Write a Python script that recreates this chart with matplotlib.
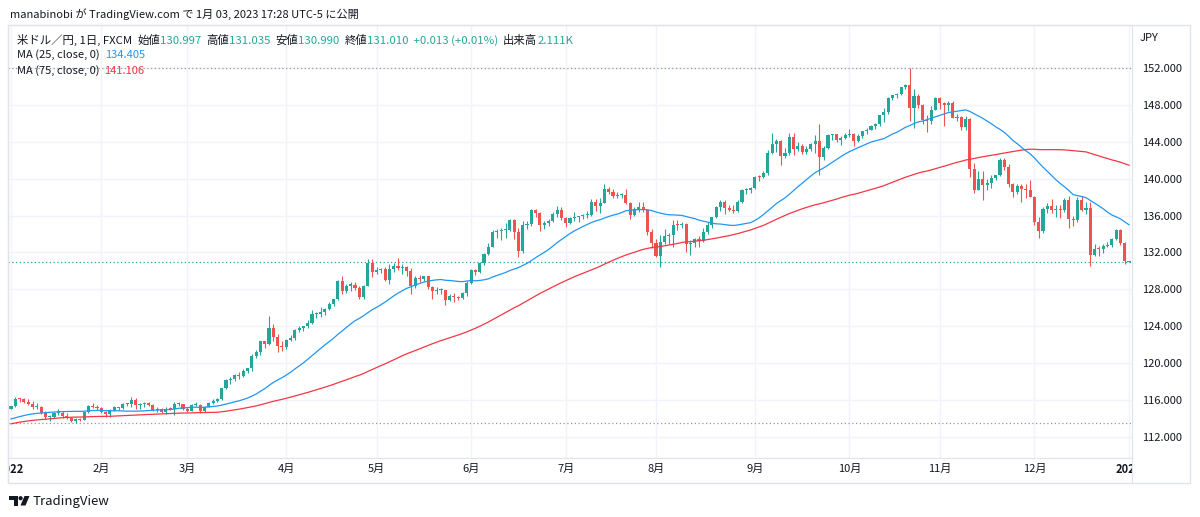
import numpy as np
import pandas as pd
import matplotlib
matplotlib.use('Agg')
import matplotlib.pyplot as plt
from matplotlib.patches import Polygon, Circle, Rectangle
from matplotlib.transforms import Affine2D

# closes before the chart window (needed so the MAs start at the left edge)
closes_2021 = [
    109.72, 109.94, 109.40, 109.22, 109.78, 110.27, 110.74, 111.00, 111.50, 111.98, 111.29,
    111.05, 110.93, 111.44, 111.41, 111.62, 112.22, 113.30, 113.60, 113.25, 113.69, 114.22,
    114.35, 114.36, 114.31, 113.99, 113.47, 113.70, 114.16, 113.83, 113.58, 113.95,
    113.98, 113.96, 114.07, 113.78, 113.42, 112.90, 112.87, 113.92, 114.05, 113.87, 114.12,
    114.81, 114.09, 114.27, 114.00, 114.83, 115.09, 115.42, 115.36, 113.40, 113.56, 113.15,
    112.80, 113.16, 112.80, 113.45, 113.56, 113.72, 113.44, 113.38, 113.56, 113.72, 114.04,
    113.70, 113.72, 113.62, 114.09, 114.12, 114.40, 114.40, 114.82, 114.84, 115.02, 115.05, 115.08,
]

# daily (open, high, low, close) per month, 2022
jan = [(115.08, 115.40, 115.00, 115.31), (115.31, 116.35, 115.25, 116.12), (116.12, 116.20, 115.75, 116.10),
       (116.10, 116.20, 115.65, 115.84), (115.84, 116.10, 115.45, 115.56), (115.56, 115.85, 115.05, 115.20),
       (115.20, 115.68, 115.00, 115.28), (115.28, 115.40, 114.50, 114.62), (114.62, 114.80, 113.90, 114.18),
       (114.18, 114.35, 113.70, 114.20), (114.20, 114.70, 114.10, 114.59), (114.59, 115.05, 114.40, 114.62),
       (114.62, 114.85, 114.10, 114.32), (114.32, 114.55, 114.00, 114.09), (114.09, 114.20, 113.60, 113.69),
       (113.69, 114.05, 113.47, 113.98), (113.98, 114.10, 113.70, 113.87), (113.87, 114.75, 113.80, 114.66),
       (114.66, 115.48, 114.60, 115.34), (115.34, 115.68, 115.10, 115.26), (115.26, 115.45, 114.95, 115.10)]
feb = [(115.10, 115.25, 114.55, 114.69), (114.69, 114.80, 114.15, 114.44), (114.44, 115.05, 114.20, 114.97),
       (114.97, 115.40, 114.80, 115.21), (115.21, 115.30, 114.90, 115.09), (115.09, 115.65, 115.00, 115.55),
       (115.55, 115.70, 115.35, 115.53), (115.53, 116.34, 115.30, 116.03), (116.03, 116.20, 115.00, 115.42),
       (115.42, 115.70, 115.00, 115.58), (115.58, 115.80, 115.30, 115.67), (115.67, 115.80, 115.35, 115.49),
       (115.49, 115.55, 114.80, 114.90), (114.90, 115.20, 114.75, 115.01), (115.01, 115.10, 114.60, 114.75),
       (114.75, 115.20, 114.50, 115.08), (115.08, 115.25, 114.90, 115.01), (115.01, 115.75, 114.40, 115.53),
       (115.53, 115.75, 115.40, 115.55), (115.55, 115.55, 114.90, 114.98)]
mar = [(114.98, 115.20, 114.70, 114.86), (114.86, 115.55, 114.80, 115.48), (115.48, 115.80, 115.35, 115.51),
       (115.51, 115.60, 114.65, 114.83), (114.83, 115.35, 114.70, 115.30), (115.30, 115.80, 115.20, 115.68),
       (115.68, 116.15, 115.55, 115.90), (115.90, 116.20, 115.75, 116.15), (116.15, 117.35, 116.05, 117.31),
       (117.31, 118.30, 117.20, 118.17), (118.17, 118.45, 117.70, 118.30), (118.30, 118.85, 118.10, 118.73),
       (118.73, 119.00, 118.30, 118.60), (118.60, 119.40, 118.50, 119.16), (119.16, 119.50, 118.90, 119.44),
       (119.44, 120.95, 119.20, 120.82), (120.82, 121.40, 120.60, 121.19), (121.19, 122.45, 120.85, 122.36),
       (122.36, 122.45, 121.60, 122.04), (122.04, 125.09, 122.00, 123.83), (123.83, 124.30, 122.45, 122.86),
       (122.86, 123.20, 121.25, 121.85), (121.85, 122.45, 121.28, 121.70)]
apr = [(121.70, 122.60, 121.55, 122.51), (122.51, 123.05, 122.40, 122.77), (122.77, 123.70, 122.55, 123.60),
       (123.60, 124.00, 123.40, 123.79), (123.79, 124.05, 123.45, 123.98), (123.98, 124.65, 123.80, 124.33),
       (124.33, 125.75, 124.30, 125.35), (125.35, 125.60, 124.90, 125.37), (125.37, 126.10, 125.05, 125.59),
       (125.59, 126.00, 125.20, 125.87), (125.87, 126.65, 125.80, 126.40), (126.40, 127.00, 126.20, 126.95),
       (126.95, 129.00, 126.85, 128.88), (128.88, 129.40, 127.50, 127.87), (127.87, 128.60, 127.60, 128.42),
       (128.42, 128.85, 127.85, 128.50), (128.50, 128.85, 127.95, 128.11), (128.11, 128.40, 126.95, 127.21),
       (127.21, 128.50, 127.00, 128.38), (128.38, 131.25, 128.35, 130.83), (130.83, 131.25, 129.35, 129.84)]
may = [(129.84, 130.40, 129.70, 130.13), (130.13, 130.35, 129.80, 130.16), (130.16, 130.45, 128.90, 129.07),
       (129.07, 130.80, 128.60, 130.22), (130.22, 130.85, 129.85, 130.58), (130.58, 131.35, 130.05, 130.27),
       (130.27, 130.80, 129.70, 130.43), (130.43, 130.50, 129.40, 129.97), (129.97, 130.30, 127.50, 128.34),
       (128.34, 129.40, 128.20, 129.22), (129.22, 129.60, 128.85, 129.12), (129.12, 129.50, 128.95, 129.40),
       (129.40, 129.50, 128.00, 128.25), (128.25, 128.35, 127.00, 127.79), (127.79, 128.25, 127.50, 127.88),
       (127.88, 128.10, 127.50, 127.89), (127.89, 127.95, 126.36, 126.84), (126.84, 127.50, 126.70, 127.31),
       (127.31, 127.60, 126.60, 127.12), (127.12, 127.30, 126.85, 127.11), (127.11, 127.75, 127.00, 127.62),
       (127.62, 128.90, 127.30, 128.70)]
jun = [(128.70, 130.20, 128.55, 130.05), (130.05, 130.20, 129.55, 129.90), (129.90, 130.95, 129.80, 130.86),
       (130.86, 131.95, 130.65, 131.88), (131.88, 132.99, 131.70, 132.62), (132.62, 134.48, 132.55, 134.26),
       (134.26, 134.55, 133.60, 134.37), (134.37, 134.60, 133.40, 134.41), (134.41, 135.20, 133.60, 134.43),
       (134.43, 135.60, 134.30, 135.48), (135.48, 135.60, 133.50, 134.19), (134.19, 134.65, 131.50, 132.18),
       (132.18, 135.45, 131.95, 134.98), (134.98, 135.40, 134.50, 135.08), (135.08, 136.70, 134.90, 136.65),
       (136.65, 136.71, 135.80, 136.25), (136.25, 136.40, 134.30, 134.94), (134.94, 135.40, 134.55, 135.22),
       (135.22, 135.60, 134.90, 135.45), (135.45, 136.35, 135.25, 136.14), (136.14, 137.00, 135.90, 136.57),
       (136.57, 136.95, 135.55, 135.73)]
jul = [(135.73, 135.80, 134.75, 135.21), (135.21, 135.90, 135.10, 135.70), (135.70, 136.35, 135.40, 135.86),
       (135.86, 136.00, 135.30, 135.93), (135.93, 136.20, 135.60, 136.03), (136.03, 136.55, 135.70, 136.09),
       (136.09, 137.75, 136.00, 137.44), (137.44, 137.80, 136.55, 137.02), (137.02, 137.90, 136.30, 137.41),
       (137.41, 139.39, 137.35, 138.93), (138.93, 139.05, 138.35, 138.56), (138.56, 138.85, 137.95, 138.15),
       (138.15, 138.55, 137.90, 138.21), (138.21, 138.40, 137.90, 138.21), (138.21, 138.85, 137.30, 137.36),
       (137.36, 137.50, 135.60, 136.11), (136.11, 136.90, 135.95, 136.69), (136.69, 137.45, 136.40, 136.94),
       (136.94, 137.45, 136.35, 136.57), (136.57, 136.60, 133.90, 134.25), (134.25, 134.55, 132.50, 133.00)]
aug = [(133.00, 133.50, 131.55, 131.60), (131.60, 133.90, 130.40, 133.17), (133.17, 134.55, 132.95, 133.81),
       (133.81, 134.10, 132.90, 133.91), (133.91, 135.50, 132.55, 135.00), (135.00, 135.55, 134.40, 134.97),
       (134.97, 135.25, 134.60, 135.06), (135.06, 135.15, 132.05, 132.93), (132.93, 133.40, 131.75, 133.03),
       (133.03, 133.60, 132.55, 133.47), (133.47, 133.80, 132.55, 133.26), (133.26, 134.70, 133.10, 134.20),
       (134.20, 135.30, 134.00, 135.00), (135.00, 135.90, 134.65, 135.87), (135.87, 137.00, 135.70, 136.92),
       (136.92, 137.70, 136.55, 137.49), (137.49, 137.65, 136.20, 136.77), (136.77, 137.20, 136.45, 136.65),
       (136.65, 137.10, 136.25, 136.53), (136.53, 137.70, 136.40, 137.46), (137.46, 138.90, 137.40, 138.73),
       (138.73, 139.00, 138.30, 138.77), (138.77, 139.10, 138.45, 138.96)]
sep = [(138.96, 140.25, 138.90, 140.20), (140.20, 140.35, 139.75, 140.18), (140.18, 140.80, 140.05, 140.57),
       (140.57, 143.10, 140.40, 142.80), (142.80, 144.99, 142.65, 143.73), (143.73, 144.30, 142.90, 144.11),
       (144.11, 144.15, 141.50, 142.51), (142.51, 143.30, 142.25, 142.83), (142.83, 144.95, 142.55, 144.56),
       (144.56, 144.95, 142.55, 143.17), (143.17, 144.00, 143.05, 143.53), (143.53, 143.75, 142.65, 142.92),
       (142.92, 143.50, 142.70, 143.18), (143.18, 143.85, 143.00, 143.72), (143.72, 144.70, 142.80, 144.09),
       (144.09, 145.90, 140.35, 142.38), (142.38, 143.50, 142.00, 143.36), (143.36, 144.80, 143.25, 144.74),
       (144.74, 144.85, 144.20, 144.80), (144.80, 144.85, 143.95, 144.14), (144.14, 144.60, 143.70, 144.44),
       (144.44, 144.90, 144.30, 144.72)]
oct_ = [(144.72, 145.40, 144.50, 144.85), (144.85, 144.95, 143.55, 144.04), (144.04, 144.85, 143.95, 144.58),
        (144.58, 145.20, 144.40, 145.12), (145.12, 145.45, 144.85, 145.30), (145.30, 145.80, 145.25, 145.71),
        (145.71, 146.00, 145.40, 145.88), (145.88, 146.95, 145.75, 146.88), (146.88, 147.65, 146.10, 147.21),
        (147.21, 148.85, 147.05, 148.71), (148.71, 149.10, 148.55, 149.03), (149.03, 149.30, 148.70, 149.23),
        (149.23, 149.95, 149.05, 149.89), (149.89, 150.30, 149.70, 150.15), (150.15, 151.95, 146.20, 147.66),
        (147.66, 149.70, 145.50, 148.98), (148.98, 149.20, 147.70, 148.00), (148.00, 148.05, 145.90, 146.38),
        (146.38, 146.85, 145.10, 146.29), (146.29, 147.90, 145.90, 147.49), (147.49, 148.85, 147.40, 148.71)]
nov = [(148.71, 148.85, 147.50, 148.19), (148.19, 148.30, 145.70, 147.94), (147.94, 148.40, 147.30, 148.25),
       (148.25, 148.45, 146.55, 146.60), (146.60, 147.00, 146.20, 146.66), (146.66, 146.75, 145.25, 145.64),
       (145.64, 146.80, 145.30, 146.43), (146.43, 146.60, 140.20, 141.02), (141.02, 141.70, 138.50, 138.79),
       (138.79, 140.80, 138.75, 139.94), (139.94, 140.85, 137.70, 139.30), (139.30, 140.00, 138.80, 139.53),
       (139.53, 140.40, 139.00, 140.06), (140.06, 140.45, 139.85, 140.38), (140.38, 142.25, 140.30, 142.07),
       (142.07, 142.25, 140.90, 141.22), (141.22, 141.60, 139.10, 139.44), (139.44, 139.50, 138.05, 138.55),
       (138.55, 139.45, 138.30, 139.19), (139.19, 139.40, 137.50, 138.93), (138.93, 139.40, 137.90, 138.73),
       (138.73, 139.90, 138.00, 138.06)]
dec = [(138.06, 138.10, 135.00, 135.30), (135.30, 135.90, 133.62, 134.30), (134.30, 136.90, 134.10, 136.75),
       (136.75, 137.40, 136.30, 137.02), (137.02, 137.85, 136.25, 136.58), (136.58, 137.10, 135.90, 136.60),
       (136.60, 137.10, 135.75, 136.56), (136.56, 137.90, 136.40, 137.71), (137.71, 138.15, 134.65, 135.61),
       (135.61, 136.00, 134.90, 135.47), (135.47, 138.00, 135.35, 137.74), (137.74, 138.10, 136.50, 136.63),
       (136.63, 137.45, 136.15, 136.86), (136.86, 137.45, 130.56, 131.72), (131.72, 132.90, 131.60, 132.41),
       (132.41, 132.70, 131.60, 132.36), (132.36, 132.95, 131.95, 132.72), (132.72, 133.10, 132.55, 132.86),
       (132.86, 133.60, 132.60, 133.47), (133.47, 134.50, 133.35, 134.46), (134.46, 134.50, 132.85, 133.06),
       (133.06, 133.10, 130.80, 131.12)]
jan23 = [(130.997, 131.035, 130.990, 131.010)]

month_labels = ['2022', '2月', '3月', '4月', '5月', '6月', '7月', '8月', '9月', '10月', '11月', '12月', '2023']
yticks = [112, 116, 120, 124, 128, 132, 136, 140, 144, 148, 152]

header = 'manabinobi が TradingView.com で 1月 03, 2023 17:28 UTC-5 に公開'
ma25_txt = '134.405'
ma75_txt = '141.106'

UP, DOWN = '#26a69a', '#ef5350'
TXT = '#131722'
GRID = '#f0f3fa'
BORDER = '#e0e3eb'

plt.rcParams['font.family'] = ['Noto Sans CJK JP', 'DejaVu Sans']

ohlc = np.array(jan + feb + mar + apr + may + jun + jul + aug + sep + oct_ + nov + dec + jan23)
dates = pd.bdate_range('2022-01-03', '2023-01-02')
assert len(dates) == len(ohlc), (len(dates), len(ohlc))
o, h, l, c = ohlc.T
xi = np.arange(len(c))

allc = pd.Series(list(closes_2021) + list(c))
ma25 = allc.rolling(25).mean().to_numpy()[-len(c):]
ma75 = allc.rolling(75).mean().to_numpy()[-len(c):]

W, H = 1200, 517
fig = plt.figure(figsize=(W / 100, H / 100), dpi=100)


def box(x0, y0, x1, y1):
    return [x0 / W, 1 - y1 / H, (x1 - x0) / W, (y1 - y0) / H]


px = Affine2D().scale(1 / W, -1 / H).translate(0, 1) + fig.transFigure

ax = fig.add_axes(box(8, 25, 1132, 458))
ax.set_xlim(-0.7, 260.7)
ax.set_ylim(109.72, 156.66)

# month starts -> vertical grid
mstart = [0] + [i for i in range(1, len(dates)) if dates[i].month != dates[i - 1].month]
ax.set_xticks(mstart)
ax.set_yticks(yticks)
ax.grid(color=GRID, lw=1)
ax.set_axisbelow(True)
ax.tick_params(axis='x', length=0, labelbottom=False)
ax.yaxis.tick_right()
ax.yaxis.set_major_formatter(lambda v, p: f'{v:.3f}')
ax.tick_params(axis='y', length=0, pad=7, labelsize=8, labelcolor=TXT)
for s in ax.spines.values():
    s.set_color(BORDER)

# high / low / last price lines
ax.axhline(h.max(), color='#9598a1', lw=0.9, ls=(0, (1, 2)))
ax.axhline(l.min(), color='#9598a1', lw=0.9, ls=(0, (1, 2)))
ax.axhline(c[-1], color=UP, lw=0.9, ls=(0, (1, 2)))

cols = np.where(c >= o, UP, DOWN)
ax.vlines(xi, l, h, colors=cols, lw=0.8, zorder=3)
ax.bar(xi, np.maximum(np.abs(c - o), 0.11), bottom=np.minimum(o, c), width=0.72,
       color=cols, lw=0, zorder=4)

ax.plot(xi, ma25, color='#2196f3', lw=0.9, zorder=5)
ax.plot(xi, ma75, color='#f23645', lw=0.9, zorder=5)

# time axis strip
xax = fig.add_axes(box(8, 458, 1132, 483))
xax.set_xlim(ax.get_xlim())
xax.set_ylim(0, 1)
xax.set_xticks([])
xax.set_yticks([])
for s in xax.spines.values():
    s.set_color(BORDER)
ticks_x = mstart + [len(dates) - 1]
for xv, lab in zip(ticks_x, month_labels):
    bold = lab.startswith('20')
    xax.text(xv, 0.55, lab, ha='center', va='center', fontsize=8, color=TXT,
             fontweight='bold' if bold else 'normal', clip_on=True)

# outer frame
fig.add_artist(Rectangle((8, 25), 1182, 458, transform=px, fill=False, ec=BORDER, lw=1))

fig.text(1140 / W, 1 - 38 / H, 'JPY', fontsize=8, color=TXT, va='center')
fig.text(10 / W, 1 - 14 / H, header, fontsize=8, color=TXT, va='center')


def rich(x, y, parts, size=8):
    t = fig.text(x / W, 1 - y / H, parts[0][0], color=parts[0][1], fontsize=size, va='center')
    for s, col in parts[1:]:
        t = ax.annotate(s, xy=(1, 0), xycoords=t, va='bottom', ha='left',
                        color=col, fontsize=size, annotation_clip=False)


rich(17, 40, [('米ドル／円, 1日, FXCM  ', TXT), ('始値', TXT), ('130.997  ', UP),
              ('高値', TXT), ('131.035  ', UP), ('安値', TXT), ('130.990  ', UP),
              ('終値', TXT), ('131.010  +0.013 (+0.01%)  ', UP), ('出来高', TXT), ('2.111K', UP)],
     size=8.2)
rich(17, 55, [('MA (25, close, 0)  ', TXT), (ma25_txt, '#2196f3')])
rich(17, 71, [('MA (75, close, 0)  ', TXT), (ma75_txt, '#f23645')])

# TradingView logo + name
fig.add_artist(Polygon([(9, 496), (17.5, 496), (17.5, 505.5), (13.8, 505.5), (13.8, 499.6), (9, 499.6)],
                       closed=True, transform=px, color=TXT, lw=0))
fig.add_artist(Circle((20.6, 498.2), 2.1, transform=px, color=TXT, lw=0))
fig.add_artist(Polygon([(24.5, 496), (29.5, 496), (25.5, 505.5), (20.5, 505.5)],
                       closed=True, transform=px, color=TXT, lw=0))
fig.text(33 / W, 1 - 501 / H, 'TradingView', fontsize=9.5, color=TXT, va='center')

fig.savefig('out.png', dpi=100, facecolor='white')
